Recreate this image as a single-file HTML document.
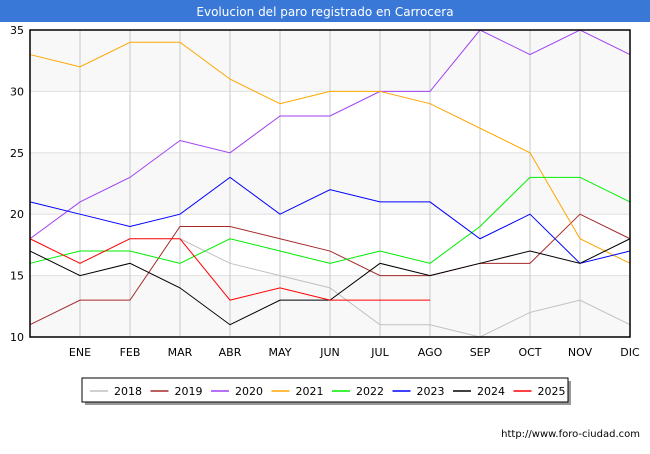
<!DOCTYPE html>
<html><head><meta charset="utf-8"><style>
body{margin:0;width:650px;height:450px;background:#fff;font-family:"DejaVu Sans","Liberation Sans",sans-serif;overflow:hidden}
svg text{font-family:"DejaVu Sans","Liberation Sans",sans-serif}
</style></head><body>
<svg width="650" height="450">
<rect x="0" y="0" width="650" height="450" fill="#fff"/>
<rect x="0" y="0" width="650" height="22" fill="#3a78d8"/>
<text x="325" y="16" text-anchor="middle" font-size="12" fill="#fff">Evolucion del paro registrado en Carrocera</text>
<g id="plot"></g>
<g id="legend"></g>
<text x="640" y="437" text-anchor="end" font-size="10" fill="#000">http://www.foro-ciudad.com</text>
</svg>
<script>
const months=["","ENE","FEB","MAR","ABR","MAY","JUN","JUL","AGO","SEP","OCT","NOV","DIC"];
const yTicks=[10,15,20,25,30,35];
const years=["2018","2019","2020","2021","2022","2023","2024","2025"];
const colors=["#c0c0c0","#a52a2a","#a040f0","#ffa500","#00ee00","#0000ff","#000000","#ff0000"];
const s2018=[null,null,null,18,16,15,14,11,11,10,12,13,11];
const s2019=[11,13,13,19,19,18,17,15,15,16,16,20,18];
const s2020=[18,21,23,26,25,28,28,30,30,35,33,35,33];
const s2021=[33,32,34,34,31,29,30,30,29,27,25,18,16];
const s2022=[16,17,17,16,18,17,16,17,16,19,23,23,21];
const s2023=[21,20,19,20,23,20,22,21,21,18,20,16,17];
const s2024=[17,15,16,14,11,13,13,16,15,16,17,16,18];
const s2025=[18,16,18,18,13,14,13,13,13];
const series=[s2018,s2019,s2020,s2021,s2022,s2023,s2024,s2025];
const NS="http://www.w3.org/2000/svg";
const L=30,R=630,T=30,B=337;
const x=i=>L+i*(R-L)/12;
const y=v=>B-(v-10)*(B-T)/25;
const plot=document.getElementById('plot');
function mk(tag,attrs,parent){const e=document.createElementNS(NS,tag);for(const k in attrs)e.setAttribute(k,attrs[k]);parent.appendChild(e);return e;}
for(let k=0;k<yTicks.length-1;k++){
  const b=mk('rect',{x:L,y:y(yTicks[k+1]),width:R-L,height:y(yTicks[k])-y(yTicks[k+1]),fill:k%2===0?'#f8f8f8':'#ffffff'},plot);
  
  
}
yTicks.forEach(t=>{
  const g=mk('line',{x1:L,x2:R,y1:y(t),y2:y(t),stroke:'#e0e0e0'},plot);
  
  
  const tx=mk('text',{x:L-6,y:y(t)+4,'text-anchor':'end','font-size':11},plot);
  tx.textContent=t;
  
  
});
months.forEach((m,i)=>{
  if(i>0){
    const g=mk('line',{x1:x(i),x2:x(i),y1:T,y2:B,stroke:'#c8c8c8'},plot);
    
    
  }
  if(m){
    const tx=mk('text',{x:x(i),y:B+19,'text-anchor':'middle','font-size':11},plot);
    tx.textContent=m;
    
    
  }
});
series.forEach((s,si)=>{
  let d='',pen=false;
  s.forEach((v,i)=>{if(v==null){pen=false;return;}d+=(pen?'L':'M')+x(i)+' '+y(v)+' ';pen=true;});
  const p=mk('path',{d:d,fill:'none',stroke:colors[si],'stroke-width':1},plot);
  
  
});
const ax=mk('rect',{x:L,y:T,width:R-L,height:B-T,fill:'none',stroke:'#000','stroke-width':1.5},plot);


const lg=document.getElementById('legend');
mk('rect',{x:85,y:381,width:486,height:24,fill:'#999'},lg);
const box=mk('rect',{x:82,y:378,width:486,height:24,fill:'#fff',stroke:'#000'},lg);


years.forEach((yr,i)=>{
  const gx=90+i*60.5;
  const g=mk('g',{},lg);
  
  
  mk('line',{x1:gx,x2:gx+18,y1:391,y2:391,stroke:colors[i],'stroke-width':1.5},g);
  const t=mk('text',{x:gx+24,y:395,'font-size':11},g);
  t.textContent=yr;
});
</script>
</body></html>
